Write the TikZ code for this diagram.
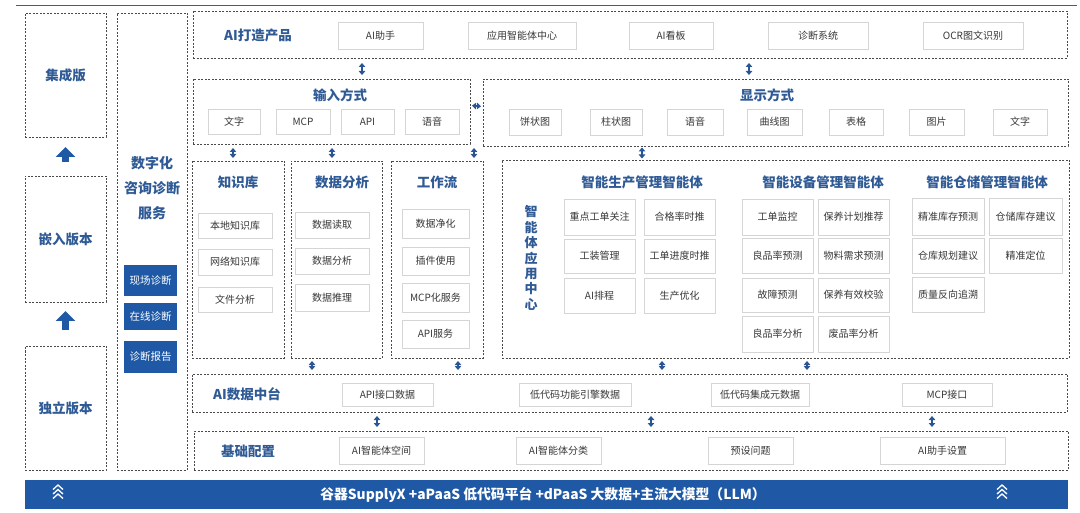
\documentclass[tikz,border=0pt]{standalone}
\usepackage{fontspec}
\setmainfont{Noto Sans CJK SC}
\usetikzlibrary{arrows.meta,calc}
\definecolor{titleblue}{HTML}{2F5A95}
\definecolor{barblue}{HTML}{1F59A6}
\definecolor{arrowblue}{HTML}{2A5594}
\definecolor{itemtext}{HTML}{383838}
\definecolor{itemc}{HTML}{D5D5D5}
\definecolor{dashc}{HTML}{4A4A4A}
\newcommand\mybox[7]{\node[#6, minimum width={(#4-#2)*1pt}, minimum height={(#5-#3)*1pt}] (#1) at ({(#2+#4)/2},{(#3+#5)/2}) {#7};}
\begin{document}
\begin{tikzpicture}[x=1pt,y=-1pt,
 cont/.style={draw=dashc, dash pattern=on 2pt off 1.5pt, line width=0.7pt, inner sep=0pt, outer sep=0pt},
 itembox/.style={draw=itemc, line width=0.6pt, fill=white, inner sep=0pt, outer sep=0pt, text=itemtext, font=\fontsize{10}{12}\selectfont},
 ttl/.style={text=titleblue, font=\fontsize{13.5}{16}\selectfont\bfseries, inner sep=0pt},
 bluebox/.style={fill=barblue, text=white, inner sep=0pt, outer sep=0pt, font=\fontsize{10.5}{12}\selectfont},
 dbl/.style={arrowblue, line width=1.8pt, {Triangle[width=6.5pt,length=4pt]}-{Triangle[width=6.5pt,length=4pt]}},
 uparrow/.style={barblue, line width=7pt, -{Triangle[width=19pt,length=10pt]}},
 chev/.style={white, line width=1.3pt},
]
\useasboundingbox (0,0) rectangle (1080,513);
\draw[black!65, line width=1pt] (16,6) -- (1077,6);

% left column
\mybox{ji}{25}{13}{106}{137}{cont,ttl}{集成版}
\mybox{qian}{25}{176}{106}{302}{cont,ttl}{嵌入版本}
\mybox{du}{25}{346}{106}{470}{cont,ttl}{独立版本}
\draw[uparrow, shorten <=14pt, shorten >=10pt] (qian.north) -- (ji.south);
\draw[uparrow, shorten <=16pt, shorten >=9pt] (du.north) -- (qian.south);

\mybox{zx}{117}{13}{187}{470}{cont}{}
\node[ttl, align=center, font=\fontsize{14}{25}\selectfont\bfseries] (zxt) at (152,188) {数字化\\咨询诊断\\服务};
\mybox{xc}{124}{265}{177}{296}{bluebox}{现场诊断}
\mybox{zxd}{124}{303}{177}{330}{bluebox}{在线诊断}
\mybox{bg}{124}{341}{177}{373}{bluebox}{诊断报告}

% AI products
\mybox{prod}{193}{11}{1067}{58}{cont}{}
\node[ttl] (prodt) at (258,35) {AI打造产品};
\mybox{p1}{338}{22}{423}{49}{itembox}{AI助手}
\mybox{p2}{468}{22}{576}{49}{itembox}{应用智能体中心}
\mybox{p3}{629}{22}{713}{49}{itembox}{AI看板}
\mybox{p4}{768}{22}{868}{49}{itembox}{诊断系统}
\mybox{p5}{923}{22}{1023}{49}{itembox}{OCR图文识别}

% input / display
\mybox{in}{193}{79}{470}{144}{cont}{}
\node[ttl] (int) at (340,95) {输入方式};
\mybox{i1}{208}{109}{260}{134}{itembox}{文字}
\mybox{i2}{276}{109}{330}{134}{itembox}{MCP}
\mybox{i3}{341}{109}{394}{134}{itembox}{API}
\mybox{i4}{405}{109}{459}{134}{itembox}{语音}

\mybox{disp}{483}{79}{1068}{146}{cont}{}
\node[ttl] (dispt) at (767,95) {显示方式};
\mybox{d1}{509}{109}{561}{135}{itembox}{饼状图}
\mybox{d2}{590}{109}{642}{135}{itembox}{柱状图}
\mybox{d3}{667}{109}{723}{135}{itembox}{语音}
\mybox{d4}{747}{109}{802}{135}{itembox}{曲线图}
\mybox{d5}{829}{109}{883}{135}{itembox}{表格}
\mybox{d6}{909}{109}{964}{135}{itembox}{图片}
\mybox{d7}{993}{109}{1047}{135}{itembox}{文字}

% middle row
\mybox{kb}{192}{161}{284}{358}{cont}{}
\node[ttl] (kbt) at (238,182) {知识库};
\mybox{k1}{198}{213}{272}{238}{itembox}{本地知识库}
\mybox{k2}{198}{249}{272}{275}{itembox}{网络知识库}
\mybox{k3}{198}{287}{272}{312}{itembox}{文件分析}

\mybox{da}{291}{161}{382}{358}{cont}{}
\node[ttl] (dat) at (342,182) {数据分析};
\mybox{a1}{295}{212}{369}{238}{itembox}{数据读取}
\mybox{a2}{295}{248}{369}{274}{itembox}{数据分析}
\mybox{a3}{295}{284}{369}{311}{itembox}{数据推理}

\mybox{wf}{391}{161}{483}{358}{cont}{}
\node[ttl] (wft) at (437,182) {工作流};
\mybox{w1}{402}{209}{469}{238}{itembox}{数据净化}
\mybox{w2}{402}{247}{469}{275}{itembox}{插件使用}
\mybox{w3}{402}{283}{469}{312}{itembox}{MCP化服务}
\mybox{w4}{402}{320}{469}{348}{itembox}{API服务}

\mybox{sc}{502}{160}{1069}{358}{cont}{}
\node[ttl, align=center, font=\fontsize{13}{15.4}\selectfont\bfseries] (sct) at (531,258) {智\\能\\体\\应\\用\\中\\心};

\node[ttl] (s1t) at (642,182) {智能生产管理智能体};
\mybox{s11}{564}{199}{635}{235}{itembox}{重点工单关注}
\mybox{s12}{644}{199}{715}{235}{itembox}{合格率时推}
\mybox{s13}{564}{239}{635}{273}{itembox}{工装管理}
\mybox{s14}{644}{239}{715}{273}{itembox}{工单进度时推}
\mybox{s15}{564}{278}{635}{313}{itembox}{AI排程}
\mybox{s16}{644}{278}{715}{313}{itembox}{生产优化}

\node[ttl] (s2t) at (823,182) {智能设备管理智能体};
\mybox{s21}{742}{199}{813}{235}{itembox}{工单监控}
\mybox{s22}{818}{199}{889}{235}{itembox}{保养计划推荐}
\mybox{s23}{742}{238}{813}{273}{itembox}{良品率预测}
\mybox{s24}{818}{238}{889}{273}{itembox}{物料需求预测}
\mybox{s25}{742}{278}{813}{312}{itembox}{故障预测}
\mybox{s26}{818}{278}{889}{312}{itembox}{保养有效校验}
\mybox{s27}{742}{316}{813}{352}{itembox}{良品率分析}
\mybox{s28}{818}{316}{889}{352}{itembox}{废品率分析}

\node[ttl] (s3t) at (987,182) {智能仓储管理智能体};
\mybox{s31}{912}{198}{984}{235}{itembox}{精准库存预测}
\mybox{s32}{989}{198}{1062}{235}{itembox}{仓储库存建议}
\mybox{s33}{912}{238}{984}{273}{itembox}{仓库规划建议}
\mybox{s34}{989}{238}{1062}{273}{itembox}{精准定位}
\mybox{s35}{912}{277}{984}{312}{itembox}{质量反向追溯}

% data platform
\mybox{dp}{192}{374}{1067}{412}{cont}{}
\node[ttl] (dpt) at (247,394) {AI数据中台};
\mybox{dp1}{342}{383}{433}{406}{itembox}{API接口数据}
\mybox{dp2}{519}{383}{631}{406}{itembox}{低代码功能引擎数据}
\mybox{dp3}{711}{383}{809}{406}{itembox}{低代码集成元数据}
\mybox{dp4}{902}{383}{992}{406}{itembox}{MCP接口}

% base config
\mybox{bc}{194}{431}{1068}{470}{cont}{}
\node[ttl] (bct) at (248,451) {基础配置};
\mybox{bc1}{339}{437}{424}{464}{itembox}{AI智能体空间}
\mybox{bc2}{516}{437}{601}{464}{itembox}{AI智能体分类}
\mybox{bc3}{708}{437}{793}{464}{itembox}{预设问题}
\mybox{bc4}{880}{437}{1005}{464}{itembox}{AI助手设置}

% bottom bar
\mybox{bar}{25}{480}{1068}{509}{bluebox}{}
\node[text=white, font=\fontsize{13.8}{16}\selectfont\bfseries, inner sep=0pt] (bart) at (543,494.5) {谷器SupplyX +aPaaS 低代码平台 +dPaaS 大数据+主流大模型（LLM）};
\foreach \cx in {58,1002} {
  \foreach \dy in {0,4.5,9} {
    \draw[chev] (\cx-5,489.5+\dy) -- (\cx,485+\dy) -- (\cx+5,489.5+\dy);
  }
}

% connector x positions
\coordinate (xa) at (362,0);
\coordinate (xb) at (749,0);
\coordinate (xc) at (233,0);
\coordinate (xd) at (332,0);
\coordinate (xe) at (474,0);
\coordinate (xf) at (642,0);
\coordinate (xg) at (312,0);
\coordinate (xh) at (458,0);
\coordinate (xi) at (662,0);
\coordinate (xj) at (807,0);
\coordinate (xk) at (377,0);
\coordinate (xl) at (651,0);
\coordinate (xm) at (932,0);

\draw[dbl, shorten <=5pt, shorten >=4pt] (xa |- prod.south) -- (xa |- in.north);
\draw[dbl, shorten <=5pt, shorten >=4pt] (xb |- prod.south) -- (xb |- disp.north);
\draw[dbl, shorten <=2pt, shorten >=2pt] ([yshift=6pt]in.east) -- ([yshift=6pt]disp.west);
\draw[dbl, shorten <=4pt, shorten >=3pt] (xc |- in.south) -- (xc |- kb.north);
\draw[dbl, shorten <=4pt, shorten >=3pt] (xd |- in.south) -- (xd |- da.north);
\draw[dbl, shorten <=4pt, shorten >=3pt] (xe |- in.south) -- (xe |- wf.north);
\draw[dbl, shorten <=1.5pt, shorten >=1.5pt] (xf |- disp.south) -- (xf |- sc.north);
\draw[dbl, shorten <=3pt, shorten >=4pt] (xg |- da.south) -- (xg |- dp.north);
\draw[dbl, shorten <=3pt, shorten >=4pt] (xh |- wf.south) -- (xh |- dp.north);
\draw[dbl, shorten <=3pt, shorten >=4pt] (xi |- sc.south) -- (xi |- dp.north);
\draw[dbl, shorten <=3pt, shorten >=4pt] (xj |- sc.south) -- (xj |- dp.north);
\draw[dbl, shorten <=4pt, shorten >=4pt] (xk |- dp.south) -- (xk |- bc.north);
\draw[dbl, shorten <=4pt, shorten >=4pt] (xl |- dp.south) -- (xl |- bc.north);
\draw[dbl, shorten <=4pt, shorten >=4pt] (xm |- dp.south) -- (xm |- bc.north);
\end{tikzpicture}
\end{document}
